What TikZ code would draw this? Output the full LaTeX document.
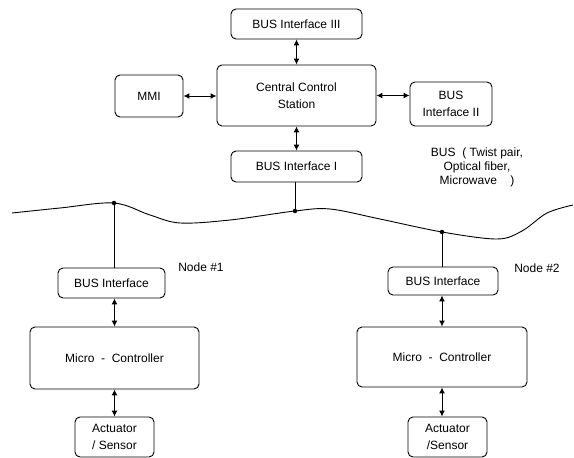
\documentclass[tikz,border=0pt]{standalone}
\usepackage{fontspec}
\setmainfont{Liberation Sans}
\usetikzlibrary{arrows.meta}
\tikzset{
  box/.style={draw, line width=0.9pt, rounded corners=5pt, align=center, inner sep=0pt,
    font=\fontsize{12}{17}\selectfont},
  arr/.style={line width=1pt, {Latex[length=6pt,width=6pt]}-{Latex[length=6pt,width=6pt]}},
  wire/.style={line width=0.9pt},
  lbl/.style={font=\fontsize{12}{14}\selectfont, align=center, inner sep=0pt},
  dot/.style={circle, fill=black, inner sep=0pt, minimum size=4.5pt}
}
\begin{document}
\begin{tikzpicture}[x=1pt,y=-1pt]
\useasboundingbox (0,0) rectangle (574,458);
% top boxes
\node[box, minimum width=131pt, minimum height=30pt] (b3) at (296.5,24) {BUS Interface III};
\node[box, minimum width=159pt, minimum height=61pt] (ccs) at (296.5,95.5) {Central Control\\Station};
\node[box, minimum width=68pt, minimum height=42pt] (mmi) at (149,96) {MMI};
\node[box, minimum width=82pt, minimum height=44pt] (b2) at (451,104) {BUS\\Interface II};
\node[box, minimum width=131pt, minimum height=31pt] (b1) at (296.5,166.5) {BUS Interface I};
% node 1
\node[box, minimum width=107pt, minimum height=30pt] (n1b) at (111.5,283) {BUS Interface};
\node[box, minimum width=169pt, minimum height=62pt] (mc1) at (114.5,358) {Micro\ \ -\ \ Controller};
\node[box, minimum width=79pt, minimum height=40pt] (as1) at (114.5,437) {Actuator\\/ Sensor};
% node 2
\node[box, minimum width=110pt, minimum height=28pt] (n2b) at (443,281) {BUS Interface};
\node[box, minimum width=170pt, minimum height=60pt] (mc2) at (442,357) {Micro\ \ -\ \ Controller};
\node[box, minimum width=79pt, minimum height=40pt] (as2) at (447.5,437) {Actuator\\/Sensor};
% labels
\node[lbl] (l1) at (201,267) {Node \#1};
\node[lbl] (l2) at (537,268) {Node \#2};
\node[lbl] (lbus) at (477,167) {BUS\ \ ( Twist pair,\\Optical fiber,\\Microwave\ \ \ \ )};
% bus line
\draw[wire] plot[smooth, tension=0.55] coordinates {(12,213) (60,208) (114,203) (150,215) (180,223) (230,220) (295,211) (330,209) (380,219) (442,232) (497,239) (522,231) (547,213) (573,205)};
\node[dot] (p1) at (114,203) {};
\node[dot] (p0) at (295,211) {};
\node[dot] (p2) at (442,232) {};
% connectors
\draw[arr] (b3.south) -- (ccs.north);
\draw[arr] (ccs.south) -- (b1.north);
\draw[arr] (mmi.east) -- (mmi.east -| ccs.west);
\draw[arr] (ccs.east) -- (ccs.east -| b2.west);
\draw[wire] (b1.south -| p0) -- (p0.center);
\draw[wire] (p1.center) -- (p1 |- n1b.north);
\draw[wire] (p2.center) -- (p2 |- n2b.north);
\draw[arr] (mc1.north |- n1b.south) -- (mc1.north);
\draw[arr] (mc1.south) -- (as1.north -| mc1.south);
\draw[arr] (mc2.north |- n2b.south) -- (mc2.north);
\draw[arr] (mc2.south) -- (as2.north -| mc2.south);
\end{tikzpicture}
\end{document}
